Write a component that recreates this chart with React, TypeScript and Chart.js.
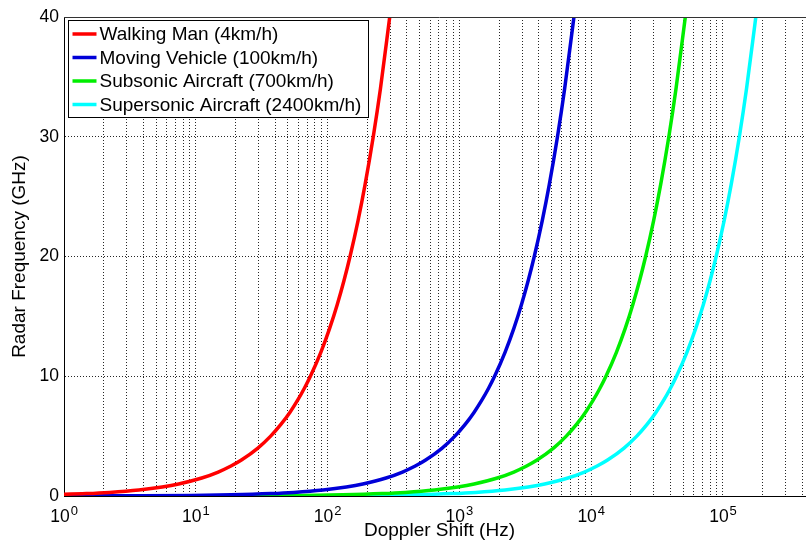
import React, { useEffect, useRef } from 'react';
import { Chart, registerables } from 'chart.js';

Chart.register(...registerables);

const seriesLabels = [
  'Walking Man (4km/h)',
  'Moving Vehicle (100km/h)',
  'Subsonic Aircraft (700km/h)',
  'Supersonic Aircraft (2400km/h)',
];
const seriesColors = ['#ff0000', '#0000d8', '#00ee00', '#00ffff'];

// Walking man: radar frequency (GHz) vs doppler shift (Hz)
const walkingRadarGHz = [0.1, 0.2, 0.3, 0.5, 0.75, 1, 1.5, 2, 2.5, 3, 4, 5, 6, 7, 8, 9, 10, 12, 14, 16, 18, 20, 23, 26, 30, 34, 40];
const walkingDopplerHz = [0.74, 1.48, 2.22, 3.7, 5.56, 7.41, 11.1, 14.8, 18.5, 22.2, 29.6, 37.0, 44.4, 51.9, 59.3, 66.7, 74.1, 88.9, 103.7, 118.5, 133.3, 148.1, 170.4, 192.6, 222.2, 251.9, 296.3];

// Other three series share these radar frequencies (GHz)
const radarGHz = [0.001, 0.002, 0.005, 0.01, 0.02, 0.05, 0.1, 0.2, 0.3, 0.5, 0.75, 1, 1.5, 2, 2.5, 3, 4, 5, 6, 7, 8, 9, 10, 12, 14, 16, 18, 20, 23, 26, 30, 34, 40];
const vehicleDopplerHz = [0.185, 0.37, 0.926, 1.85, 3.7, 9.26, 18.5, 37.0, 55.6, 92.6, 138.9, 185.2, 277.8, 370.4, 463, 555.6, 740.7, 925.9, 1111, 1296, 1481, 1667, 1852, 2222, 2593, 2963, 3333, 3704, 4259, 4815, 5556, 6296, 7407];
const subsonicDopplerHz = [1.3, 2.59, 6.48, 12.96, 25.9, 64.8, 129.6, 259.3, 388.9, 648.1, 972.2, 1296, 1944, 2593, 3241, 3889, 5185, 6481, 7778, 9074, 10370, 11667, 12963, 15556, 18148, 20741, 23333, 25926, 29815, 33704, 38889, 44074, 51852];
const supersonicDopplerHz = [4.44, 8.89, 22.2, 44.4, 88.9, 222.2, 444.4, 888.9, 1333, 2222, 3333, 4444, 6667, 8889, 11111, 13333, 17778, 22222, 26667, 31111, 35556, 40000, 44444, 53333, 62222, 71111, 80000, 88889, 102222, 115556, 133333, 151111, 177778];

const xDecades = [1, 10, 100, 1000, 10000, 100000];
const xExponents = ['0', '1', '2', '3', '4', '5'];
const xMinorMultipliers = [2, 3, 4, 5, 6, 7, 8, 9];
const xMin = 1;
const xMax = 500000;
const yTicks = [0, 10, 20, 30, 40];

const FONT = '"Liberation Sans", Arial, Helvetica, sans-serif';
const X_LABEL_OFFSET = -4;

function pts(xs: number[], ys: number[]) {
  return ys.map((y, i) => ({ x: xs[i], y }));
}

const decorPlugin = {
  id: 'decor',
  afterDraw(chart: any) {
    const { ctx, chartArea, scales } = chart;
    ctx.save();
    // top border
    ctx.strokeStyle = '#333';
    ctx.lineWidth = 1;
    ctx.setLineDash([]);
    const ty = Math.round(chartArea.top) + 0.5;
    ctx.beginPath();
    ctx.moveTo(chartArea.left, ty);
    ctx.lineTo(chartArea.right, ty);
    ctx.stroke();

    // superscript exponents for the x tick labels
    const xs = scales.x;
    ctx.font = `17.5px ${FONT}`;
    const baseW = ctx.measureText('10').width;
    ctx.font = `13px ${FONT}`;
    ctx.fillStyle = '#000';
    ctx.textAlign = 'left';
    ctx.textBaseline = 'alphabetic';
    xDecades.forEach((v, i) => {
      const px = xs.getPixelForValue(v) + X_LABEL_OFFSET + baseW / 2 + 1;
      ctx.fillText(xExponents[i], px, chartArea.bottom + 19);
    });

    // legend box
    const bx = chartArea.left + 3.5;
    const by = chartArea.top + 2.5;
    const rowH = 23.5;
    ctx.font = `19px ${FONT}`;
    let maxW = 0;
    chart.data.datasets.forEach((d: any) => {
      maxW = Math.max(maxW, ctx.measureText(d.label).width);
    });
    const bw = 5 + 24 + 3 + maxW + 6;
    const bh = 97;
    ctx.fillStyle = '#fff';
    ctx.fillRect(Math.round(bx) + 0.5, Math.round(by) + 0.5, Math.round(bw), bh);
    ctx.strokeStyle = '#000';
    ctx.lineWidth = 1;
    ctx.strokeRect(Math.round(bx) + 0.5, Math.round(by) + 0.5, Math.round(bw), bh);
    chart.data.datasets.forEach((d: any, i: number) => {
      const cy = by + 14.5 + i * rowH;
      ctx.strokeStyle = d.borderColor;
      ctx.lineWidth = 3.5;
      ctx.beginPath();
      ctx.moveTo(bx + 5, cy);
      ctx.lineTo(bx + 29, cy);
      ctx.stroke();
      ctx.fillStyle = '#000';
      ctx.textBaseline = 'middle';
      ctx.fillText(d.label, bx + 32, cy + 1);
    });
    ctx.restore();
  },
};

export default function App() {
  const ref = useRef<HTMLCanvasElement | null>(null);
  useEffect(() => {
    if (!ref.current) return;
    const seriesData = [
      pts(walkingDopplerHz, walkingRadarGHz),
      pts(vehicleDopplerHz, radarGHz),
      pts(subsonicDopplerHz, radarGHz),
      pts(supersonicDopplerHz, radarGHz),
    ];
    const xTickValues: number[] = [];
    xDecades.forEach((d) => {
      xTickValues.push(d);
      xMinorMultipliers.forEach((m) => {
        const v = d * m;
        if (v <= xMax) xTickValues.push(v);
      });
    });
    const chart = new Chart(ref.current, {
      type: 'line',
      data: {
        datasets: seriesData.map((data, i) => ({
          label: seriesLabels[i],
          data,
          borderColor: seriesColors[i],
          backgroundColor: seriesColors[i],
          borderWidth: 3.5,
          pointRadius: 0,
          fill: false,
          cubicInterpolationMode: 'monotone' as const,
        })),
      },
      options: {
        responsive: false,
        animation: false,
        events: [],
        parsing: true,
        layout: { padding: { top: 17, right: 25, left: 0, bottom: 0 } },
        plugins: {
          legend: { display: false },
          tooltip: { enabled: false },
        },
        scales: {
          x: {
            type: 'logarithmic',
            min: xMin,
            max: xMax,
            afterBuildTicks: (axis: any) => {
              axis.ticks = xTickValues.map((v) => ({ value: v }));
            },
            afterFit: (axis: any) => {
              axis.height = 47;
            },
            ticks: {
              autoSkip: false,
              maxRotation: 0,
              minRotation: 0,
              padding: 11,
              labelOffset: X_LABEL_OFFSET,
              color: '#000',
              font: { family: FONT, size: 17.5 },
              callback: (value: any) => (xDecades.includes(Number(value)) ? '10' : ''),
            },
            grid: {
              drawTicks: false,
              color: 'rgba(0,0,0,0.85)',
              lineWidth: 1,
            },
            border: { display: true, color: '#000', width: 1, dash: [1, 2] },
            title: {
              display: true,
              text: 'Doppler Shift (Hz)',
              color: '#000',
              font: { family: FONT, size: 19 },
              padding: { top: 0, bottom: 1 },
            },
          },
          y: {
            type: 'linear',
            min: 0,
            max: 40,
            afterBuildTicks: (axis: any) => {
              axis.ticks = yTicks.map((v) => ({ value: v }));
            },
            afterFit: (axis: any) => {
              axis.width = 64;
            },
            ticks: {
              padding: 5,
              color: '#000',
              font: { family: FONT, size: 17.5 },
            },
            grid: {
              drawTicks: false,
              color: (c: any) =>
                c.tick && (c.tick.value === 0 || c.tick.value === 40) ? 'rgba(0,0,0,0)' : 'rgba(0,0,0,0.85)',
              lineWidth: 1,
            },
            border: { display: true, color: '#000', width: 1, dash: [1, 2] },
            title: {
              display: true,
              text: 'Radar Frequency (GHz)',
              color: '#000',
              font: { family: FONT, size: 19 },
              padding: { top: 8.6, bottom: 0 },
            },
          },
        },
      },
      plugins: [decorPlugin],
    } as any);
    return () => chart.destroy();
  }, []);

  return (
    <div
      style={{
        position: 'fixed',
        left: 0,
        top: 0,
        width: 806,
        height: 543,
        overflow: 'hidden',
        background: '#fff',
      }}
    >
      <canvas ref={ref} width={840} height={543} style={{ display: 'block' }} />
    </div>
  );
}
